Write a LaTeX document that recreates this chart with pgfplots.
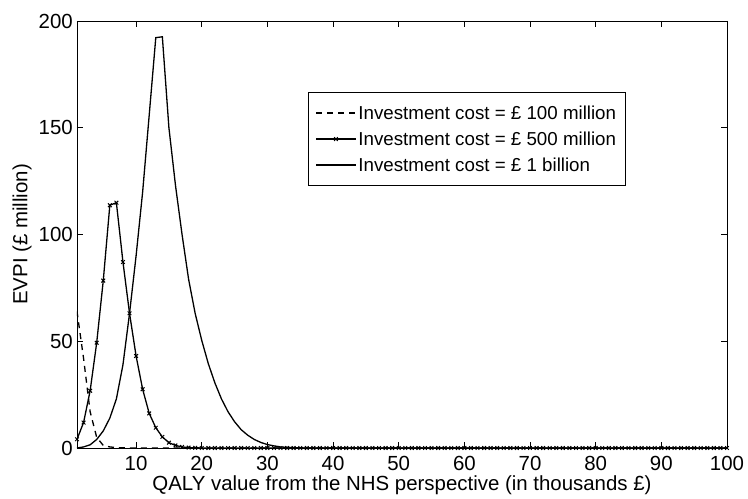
\documentclass[border=0pt]{standalone}
\usepackage{fontspec}
\setmainfont{Liberation Sans}
\usepackage{pgfplots}
\pgfplotsset{compat=1.18}

\begin{document}
\begin{tikzpicture}
\begin{axis}[
scale only axis,
width=650bp, height=427bp,
xmin=1, xmax=100,
ymin=0, ymax=200,
xtick={10,20,...,100},
ytick={0,50,...,200},
tick align=inside,
tick pos=both,
major tick length=6bp,
axis line style={line width=0.9bp},
every tick/.style={black, line width=0.8bp},
/pgf/number format/assume math mode=true,
tick label style={font=\fontsize{20.5}{24}\selectfont},
xticklabel style={anchor=base, inner sep=0pt, yshift=-22.5bp},
yticklabel style={inner sep=0pt, xshift=-4bp},
label style={font=\fontsize{20.5}{24}\selectfont},
xlabel={QALY value from the NHS perspective (in thousands £)},
ylabel={EVPI (£ million)},
xlabel style={at={(axis description cs:0.5,-0.1)}, anchor=base, inner sep=0pt},
ylabel style={at={(axis description cs:-0.0846,0.5)}, anchor=center, inner sep=0pt},
legend cell align=left,
legend style={at={(0.3554,0.8337)}, anchor=north west,
  font=\fontsize{18.8}{22}\selectfont, draw=black, line width=0.9bp,
  inner xsep=7bp, inner ysep=11bp, row sep=7bp,
  nodes={inner sep=2bp}},
legend image code/.code={\draw[mark repeat=2, mark phase=2, #1]
  plot coordinates {(0cm,0cm) (0.7cm,0cm) (1.4cm,0cm)};},
]
% investment cost 100 million
\addplot [black, line width=1.3bp, dash pattern=on 6bp off 5bp] coordinates {
(1,64) (2,42) (3,17) (4,5) (5,1.2) (6,0.5) (7,0.2) (8,0.1) (9,0.05) (10,0) (100,0)
};
\addlegendentry{Investment cost = £ 100 million}
% investment cost 500 million
\addplot [black, line width=1.3bp, mark=x, mark size=2.6bp, mark options={solid, line width=1bp}] coordinates {
(1,4.1) (2,11.9) (3,26.8) (4,49.3) (5,78.4) (6,113.7) (7,114.9) (8,87.1) (9,63.1) (10,43.1)
(11,27.5) (12,16.2) (13,9.5) (14,5.2) (15,2.5) (16,1.2) (17,0.5) (18,0.2) (19,0.1) (20,0)
(21,0) (22,0) (23,0) (24,0) (25,0) (26,0) (27,0) (28,0) (29,0) (30,0)
(31,0) (32,0) (33,0) (34,0) (35,0) (36,0) (37,0) (38,0) (39,0) (40,0)
(41,0) (42,0) (43,0) (44,0) (45,0) (46,0) (47,0) (48,0) (49,0) (50,0)
(51,0) (52,0) (53,0) (54,0) (55,0) (56,0) (57,0) (58,0) (59,0) (60,0)
(61,0) (62,0) (63,0) (64,0) (65,0) (66,0) (67,0) (68,0) (69,0) (70,0)
(71,0) (72,0) (73,0) (74,0) (75,0) (76,0) (77,0) (78,0) (79,0) (80,0)
(81,0) (82,0) (83,0) (84,0) (85,0) (86,0) (87,0) (88,0) (89,0) (90,0)
(91,0) (92,0) (93,0) (94,0) (95,0) (96,0) (97,0) (98,0) (99,0) (100,0)
};
\addlegendentry{Investment cost = £ 500 million}
% investment cost 1 billion
\addplot [black, line width=1.3bp] coordinates {
(1,0) (2,0.5) (3,1.5) (4,4) (5,8) (6,14) (7,23) (8,39) (9,63) (10,90)
(11,120) (12,156) (13,192.2) (14,192.6) (15,150) (16,123) (17,100) (18,79) (19,63) (20,50.4)
(21,39.5) (22,30.5) (23,23) (24,17) (25,12.3) (26,8.6) (27,6) (28,4) (29,2.6) (30,1.6)
(31,1) (32,0.5) (33,0.3) (34,0.15) (35,0.08) (36,0) (100,0)
};
\addlegendentry{Investment cost = £ 1 billion}
\end{axis}
\pgfresetboundingbox
\path (-77bp,-51bp) rectangle (671bp,448bp);
\end{tikzpicture}
\end{document}
